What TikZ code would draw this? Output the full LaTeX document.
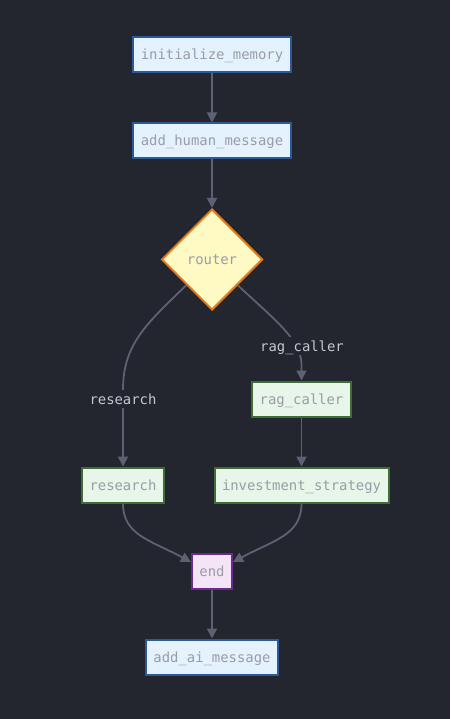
\documentclass[tikz,border=0pt]{standalone}
\usepackage{fontspec}
\setmonofont{DejaVu Sans Mono}
\usetikzlibrary{shapes.geometric,arrows.meta}
\definecolor{bg}{HTML}{23262E}
\definecolor{edgec}{HTML}{5C6273}
\definecolor{txt}{HTML}{9A9CA8}
\definecolor{lbl}{HTML}{C4C7D0}
\definecolor{bluefill}{HTML}{E3F2FD}
\definecolor{blueline}{HTML}{2A5A98}
\definecolor{greenfill}{HTML}{E8F5E9}
\definecolor{greenline}{HTML}{3E6E36}
\definecolor{purplefill}{HTML}{F3E5F5}
\definecolor{purpleline}{HTML}{6A2A8E}
\definecolor{yellowfill}{HTML}{FFF9C4}
\definecolor{orangeline}{HTML}{E07B20}
\tikzset{
  base/.style={font=\ttfamily\fontsize{13.9}{16}\selectfont, text=txt, line width=2pt,
    inner xsep=7.5pt, inner ysep=0pt, minimum height=35pt, text height=12pt, text depth=2pt},
  bluebox/.style={base, draw=blueline, fill=bluefill},
  greenbox/.style={base, draw=greenline, fill=greenfill},
  purplebox/.style={base, draw=purpleline, fill=purplefill},
  decide/.style={base, shape=diamond, draw=orangeline, fill=yellowfill, aspect=1,
    minimum width=101pt, minimum height=101pt, inner sep=0pt},
  conn/.style={draw=edgec, line width=1.8pt, -{Triangle[width=10pt,length=10pt]}},
  elabel/.style={font=\ttfamily\fontsize{13.9}{16}\selectfont, text=lbl, fill=bg, inner sep=2pt,
    text height=12pt, text depth=2pt}
}
\begin{document}
\begin{tikzpicture}[x=1pt,y=-1pt]
\fill[bg] (0,0) rectangle (450,719);
\useasboundingbox (0,0) rectangle (450,719);
\node[bluebox] (init) at (212,55) {initialize\_memory};
\node[bluebox] (human) at (212,141) {add\_human\_message};
\node[decide] (router) at (212,259.5) {router};
\node[greenbox] (rag) at (301.5,399) {rag\_caller};
\node[greenbox] (research) at (123,485) {research};
\node[greenbox] (invest) at (301.5,485) {investment\_strategy};
\node[purplebox] (end) at (212,571) {end};
\node[bluebox] (ai) at (212,657) {add\_ai\_message};

\draw[conn] (init) -- (human);
\draw[conn] (human) -- (router);
\draw[conn] (router.south west) .. controls (145,325) and (123,345) .. (123,390) -- (research.north);
\draw[conn] (router.south east) .. controls (275,320) and (301.5,340) .. (301.5,365) -- (rag.north);
\draw[conn] (rag) -- (invest);
\draw[conn] (research.south) .. controls (123,535) and (150,540) .. ([yshift=9pt]end.west);
\draw[conn] (invest.south) .. controls (301.5,535) and (274,540) .. ([yshift=9pt]end.east);
\draw[conn] (end) -- (ai);

\node[elabel] (lres) at (123,399) {research};
\node[elabel] (lrag) at (302,346) {rag\_caller};
\end{tikzpicture}
\end{document}
